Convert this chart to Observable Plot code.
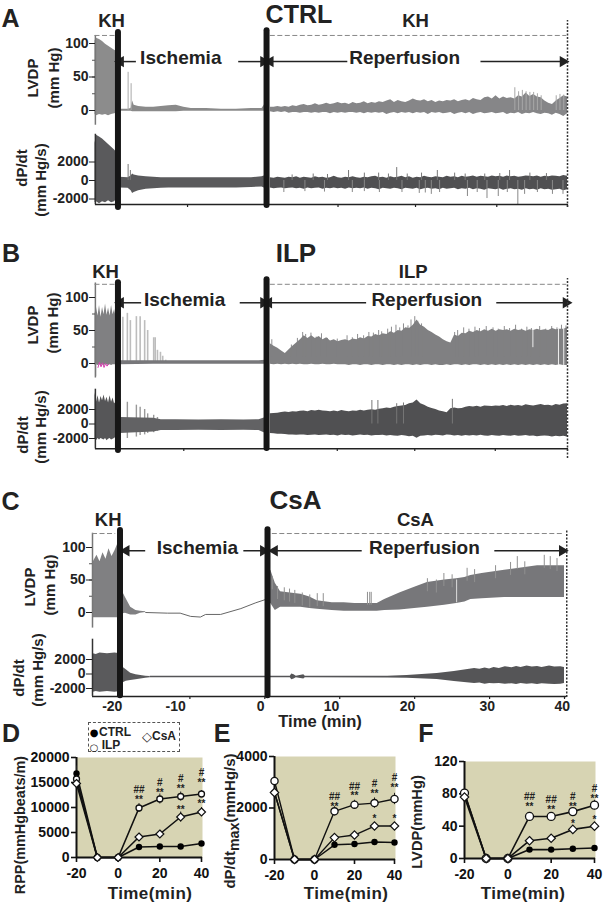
<!DOCTYPE html>
<html><head><meta charset="utf-8">
<script src="https://cdn.jsdelivr.net/npm/d3@7"></script>
<script src="https://cdn.jsdelivr.net/npm/@observablehq/plot@0.6"></script>
<style>
html,body{margin:0;padding:0;background:#fff}
#page{position:relative;width:609px;height:903px;overflow:hidden;font-family:"Liberation Sans",Arial,sans-serif;font-weight:bold;color:#222}
#page svg{position:absolute;left:0}
.lab{position:absolute;white-space:nowrap;transform:translate(-50%,-50%)}
.rot{transform:translate(-50%,-50%) rotate(-90deg)}
.lab sub{font-size:.95em;vertical-align:-0.3em;line-height:0}
</style></head><body><div id="page"></div>
<script>
const FONT='"Liberation Sans",Arial,sans-serif';
const INK="#222", THICK="#161616";

/* ---- shared time grid for reperfusion envelopes (min) ---- */
const halfMinutes=[0.5,1,1.5,2,2.5,3,3.5,4,4.5,5,5.5,6,6.5,7,7.5,8,8.5,9,9.5,10,10.5,11,11.5,12,12.5,13,13.5,14,14.5,15,15.5,16,16.5,17,17.5,18,18.5,19,19.5,20,20.5,21,21.5,22,22.5,23,23.5,24,24.5,25,25.5,26,26.5,27,27.5,28,28.5,29,29.5,30,30.5,31,31.5,32,32.5,33,33.5,34,34.5,35,35.5,36,36.5,37,37.5,38,38.5,39,39.5,40];

/* ---- Panel A: CTRL ---- */
const aKhT=[-22.8,-22.6,-22.2,-21.8,-21.4,-21,-20.6,-20.2,-19.9];
const aKhLvdpHi=[104,108,106,103,99,96,93,90,88];
const aKhLvdpLo=[-6,-8,-6,-7,-6,-8,-6,-5,-4];
const aKhDpHi=[4000,4900,4700,4500,4200,3900,3600,3300,3000];
const aKhDpLo=[-2400,-2300,-2500,-2300,-2400,-2200,-2400,-2300,-2000];
const aIscT=[-19.5,-18.4,-18,-17.8,-17.6,-17,-16,-15,-14,-13,-12,-11,-10,-8,-6,-4,-2,-0.6,-0.3,-0.1];
const aIscLvdpHi=[2,2,3,14,8,6,5,5,6,7,8,5,3,3,2,2,3,3,8,15];
const aIscLvdpLo=[-1,-1,-1,-2,-2,-2,-2,-2,-2,-2,-2,-1,-1,-1,-1,-1,-1,-1,-1,-1];
const aIscDpHi=[350,300,500,700,600,500,400,350,300,300,300,300,300,300,300,300,300,400,500,600];
const aIscDpLo=[-800,-850,-1100,-1400,-1300,-1100,-950,-900,-850,-800,-800,-800,-800,-800,-800,-800,-750,-700,-800,-900];
const aRepLvdpHi=[5,5,6,5,6,5,7,6,8,9,7,8,10,8,9,11,9,10,12,10,11,9,12,10,11,13,10,12,11,13,12,14,16,12,15,13,12,14,17,15,14,16,13,15,12,14,13,15,14,16,13,15,16,14,18,16,15,19,20,17,22,17,20,18,19,17,22,20,26,21,24,20,19,14,11,9,14,18,22,20];
const aRepLvdpLo=[-2,-3,-2,-3,-2,-4,-3,-3,-4,-3,-3,-4,-3,-4,-3,-3,-5,-3,-4,-3,-4,-3,-3,-4,-3,-5,-3,-4,-3,-4,-3,-6,-4,-3,-5,-3,-4,-3,-5,-3,-4,-3,-6,-3,-4,-3,-5,-4,-3,-6,-4,-3,-5,-3,-6,-4,-3,-5,-4,-3,-5,-4,-3,-6,-4,-5,-3,-6,-4,-5,-3,-5,-6,-4,-5,-7,-4,-6,-9,-5];
const aRepDpHi=[300,250,350,300,250,350,300,400,250,350,300,250,400,300,350,250,300,450,300,250,350,300,400,300,250,350,300,400,450,300,350,250,400,300,350,450,300,400,250,350,300,450,350,300,400,350,300,450,350,400,300,450,350,400,500,350,450,400,350,500,400,450,350,500,400,450,350,400,500,450,400,500,350,450,400,500,450,400,550,450];
const aRepDpLo=[-800,-900,-850,-800,-900,-850,-800,-900,-850,-950,-800,-900,-850,-800,-950,-850,-900,-800,-900,-850,-950,-800,-900,-850,-900,-800,-950,-850,-900,-1000,-850,-900,-950,-850,-900,-1000,-850,-900,-950,-850,-1000,-900,-850,-950,-900,-1000,-850,-950,-900,-850,-1000,-900,-950,-850,-1000,-900,-950,-1050,-900,-950,-1000,-900,-1050,-950,-900,-1000,-950,-1050,-900,-1000,-950,-1050,-900,-1000,-950,-1050,-1000,-950,-1100,-1000];
const aLvdpSpikeT=[-18.4,-18,33,33.5,34,34.5,35,35.5,36,36.5,38.5,39,39.5];
const aLvdpSpikeV=[57,40,34,28,30,28,27,27,25,22,22,24,23];
const aDpUpT=[-18.4,-18.1,3.4,6.2,8.1,10.9,13,14.9,16.2,17.3,18.7,20.6,22.7,25,26.4,29,31,32.3,35,37.2];
const aDpUpV=[1730,1080,600,700,650,1080,800,800,700,1400,700,800,1080,800,700,700,750,1080,800,750];
const aDpDownT=[2.3,5.1,7.7,11.4,13,15,18,20.3,21.1,21.9,23,26.7,28,29.3,30.8,32,33.4,34.3,36,38,39.4];
const aDpDownV=[-1300,-1200,-1250,-1300,-1200,-1300,-1300,-1400,-1350,-1500,-1300,-1730,-1300,-1950,-1730,-1300,-2600,-1500,-1300,-1500,-1500];

/* ---- Panel B: ILP ---- */
const bKhT=[-22.8,-22.6,-22.4,-22.2,-22,-21.8,-21.6,-21.4,-21.2,-21,-20.8,-20.6,-20.4,-20.2,-20];
const bKhLvdpHi=[75,85,72,88,70,85,74,90,73,84,72,88,74,82,70];
const bKhLvdpLo=[-3,-2,-3,-2,-3,-2,-3,-2,-2,-3,-2,-3,-2,-2,-2];
const bKhDpHi=[4300,3000,3900,2900,3800,3200,4000,3100,3700,2900,3900,3000,3600,2800,3000];
const bKhDpLo=[-2100,-2300,-2000,-2200,-2000,-2100,-2200,-2000,-2300,-2100,-2000,-2200,-2100,-2000,-1800];
const bPink=[-22.4,-22.2,-22,-21.8,-21.6,-21.4,-21.2,-21];
const bPinkV=[-6,2,-5,1,-6,0,-4,-1];
const bIscT=[-19.5,-15,-14,-12,-9,-6,-3,-1,-0.1];
const bIscLvdpHi=[4,4,4,4,4,4,4,4,5];
const bIscLvdpLo=[-2,-1,-1,-1,-1,-1,-1,-1,-1];
const bIscDpHi=[900,800,600,600,550,600,550,600,900];
const bIscDpLo=[-1300,-1100,-900,-900,-850,-900,-850,-900,-1300];
const bLvdpSpikeT=[-19.5,-19.1,-18.5,-18.1,-17.3,-16.8,-16.2,-15.8,-15,-14.8,-14.5,-14.1,-13.8,-13.4];
const bLvdpSpikeV=[77,70,76,65,71,71,65,50,39,39,20,17,11,5];
const bDpSpikeT=[-19.5,-18.5,-17.3,-16.8,-16.2,-15.8,-15,-14.5];
const bDpSpikeHi=[3400,3000,2600,2300,2000,1400,1200,900];
const bDpSpikeLo=[-2200,-2000,-1800,-1600,-1500,-1300,-1200,-1000];
const bRepLvdpHi=[30,26,23,19,15,21,26,31,36,42,38,42,38,41,36,39,34,36,33,35,36,34,37,36,39,37,41,40,44,42,45,44,48,46,50,49,54,53,58,66,58,55,50,47,43,40,36,33,31,43,41,46,45,49,47,50,48,51,49,52,49,51,50,51,49,52,50,51,49,51,50,52,50,51,50,53,51,52,52,54];
const bRepLvdpLo=[-1,-2,-1,-2,-1,-2,-1,-2,-1,-2,-2,-1,-2,-2,-1,-2,-2,-1,-2,-2,-2,-3,-2,-2,-3,-2,-2,-3,-2,-2,-3,-2,-2,-3,-2,-3,-2,-2,-3,-2,-3,-2,-2,-3,-2,-3,-3,-2,-3,-2,-2,-3,-2,-3,-2,-2,-3,-2,-3,-2,-3,-2,-3,-2,-3,-2,-3,-2,-3,-2,-3,-2,-3,-2,-3,-2,-3,-2,-3,-3];
const bTeethT=[0.7,3.3,4.1,4.8,5.2,5.9,6.6,7.3,8.1,9.4,10.7,11.4,12.1,12.9,13.6,14.2,14.9,15.3,16.1,16.6,17.2,17.7,18.2,18.8,19.2,19.7,20.1,20.6,25,25.4,26.2,26.9,27.7,28.3,29.2,30.1,30.8,31.6,32.3,33.1,33.9,34.6,35.2,36.3,37.1,37.9,38.6,39.2,39.8];
const bTeethV=[36,28,38,47,44,46,40,45,38,37,42,39,44,42,47,46,50,48,52,55,58,54,60,57,66,71,64,60,47,50,54,52,55,53,56,54,52,56,53,58,52,55,53,56,52,56,54,58,57];
const bRepDpHi=[1400,1450,1500,1600,1650,1600,1700,1650,1750,1800,1700,1850,1800,1900,1800,1750,1700,1800,1700,1850,1750,1700,1800,1750,1900,1800,1900,1950,1900,2050,2100,2200,2150,2300,2400,2500,2550,2800,2900,3300,2800,2600,2300,2150,2000,1800,1700,1550,2100,2200,2100,2150,2300,2400,2350,2450,2300,2500,2450,2400,2500,2450,2550,2400,2600,2500,2550,2450,2650,2550,2500,2600,2700,2550,2600,2500,2700,2600,2750,2800];
const bRepDpLo=[-1300,-1350,-1400,-1400,-1450,-1500,-1500,-1550,-1500,-1500,-1600,-1550,-1500,-1600,-1550,-1500,-1600,-1550,-1650,-1500,-1600,-1550,-1650,-1600,-1500,-1600,-1550,-1650,-1600,-1600,-1550,-1650,-1600,-1650,-1700,-1600,-1650,-1750,-1700,-1950,-1700,-1650,-1600,-1650,-1550,-1600,-1650,-1500,-1550,-1650,-1600,-1700,-1600,-1650,-1600,-1650,-1550,-1650,-1700,-1600,-1650,-1700,-1600,-1650,-1700,-1600,-1700,-1650,-1600,-1700,-1650,-1750,-1700,-1650,-1700,-1800,-1700,-1750,-1700,-1800];
const bDpUpT=[14,14.8,17.3,18.2,24.7];
const bDpUpV=[3240,3240,2800,2900,3400];
const bSlitT=[35.4,38.8,39.5];
const bSlitLo=[24,-3,-3];
const bSlitHi=[50,52,54];

/* ---- Panel C: CsA ---- */
const cKhT=[-23,-22.8,-22.4,-22,-21.6,-21.2,-20.8,-20.4,-20,-19.6,-19.3,-18.9,-18.6,-17.9,-17.2,-16.6,-15.9];
const cKhLvdpHi=[75,80,88,78,92,82,98,86,95,106,120,30,23,8,3,2,1];
const cKhLvdpLo=[-8,-8,-8,-8,-8,-8,-8,-8,-8,-8,-8,-2,-1,-4,-4,-1,0];
const cTroughT=[-15.9,-13,-11.3,-9.9,-8.6,-7.9,-5.9,-3.2,-1.2,0.1];
const cTroughV=[0,-1,-1,-6,-7,-3,-3,6,15,20];
const cRepT=[0.4,0.8,1.4,2.1,3.4,4.8,6,7,9,10.6,12,14.2,15,16,18,20,21.7,24,25.6,26.7,27.5,29,32,34,36.4,38,40];
const cRepHi=[60,65,45,32,30,28,24,18,15,15,14,14,14,20,30,39,46,50,52,54,57,60,65,68,72,72,72];
const cRepLo=[16,14,3,8,8,8,6,5,3,2,2,2,2,3,4,6,8,11,14,16,20,21,23,23,23,23,23];
const cLvdpSpikeT=[1,1.7,2.6,3.3,4,5,6,7,7.8,13.7,14,14.2,21.7,22.9,23.9,25,27,28,30.8,32.8,33.7,34.7,37.3,38.1,39];
const cLvdpSpikeV=[55,40,38,36,34,30,27,29,29,31,31,31,52,50,60,58,68,66,72,77,86,78,88,86,83];
const cKhDpT=[-23,-22.9,-22.5,-22,-21,-20,-19.3,-18.9,-18.5,-17.9,-17.2,-15.9,-15.3];
const cKhDpHi=[4600,2800,2700,2900,2800,2900,2800,900,600,100,-100,-300,-350];
const cKhDpLo=[-2500,-2500,-2400,-2500,-2400,-2500,-2400,-1200,-1000,-900,-800,-600,-500];
const cRepDpT=[-15.3,3.4,3.6,3.9,4.2,5.2,5.4,16.4,19,23,25.3,28,28.7,29.4,30,30.6,31.3,32.1,33,33.6,34.2,35,35.7,36.4,37,38,38.7,39.5,40];
const cRepDpHi=[-300,-300,0,-100,-300,-100,-300,-300,-200,70,350,760,650,820,700,900,760,1000,850,1050,900,1100,950,1050,900,1100,950,1000,900];
const cRepDpLo=[-500,-500,-800,-700,-500,-700,-500,-550,-600,-760,-1030,-1300,-1250,-1400,-1300,-1350,-1300,-1400,-1350,-1450,-1300,-1400,-1350,-1450,-1350,-1400,-1450,-1400,-1300];

/* ---- Panels D, E, F: group means ---- */
const groupT=[-20,-10,0,10,20,30,40];
const rppCtrl=[16800,0,0,2100,2200,2200,2800];
const rppIlp=[15700,0,0,9900,11700,12200,12700];
const rppCsa=[14800,0,0,4100,4700,8100,9100];
const rppIlpErr=[600,0,0,900,1000,900,700];
const rppCsaErr=[600,0,0,500,700,1000,900];
const rppCtrlErr=[1500,0,0,200,200,200,200];
const dpCtrl=[2600,0,0,570,600,680,660];
const dpIlp=[3050,0,0,1870,2130,2190,2350];
const dpCsa=[2600,0,0,850,950,1300,1300];
const dpIlpErr=[150,0,0,180,170,200,220];
const dpCsaErr=[100,0,0,80,80,90,80];
const dpCtrlErr=[100,0,0,60,60,60,60];
const lvCtrl=[80,0,0,11,11,12,13];
const lvIlp=[81,0,0,52,52,58,66];
const lvCsa=[76,0,0,22,25,36,40];
const lvIlpErr=[3,0,0,5,4,5,6];
const lvCsaErr=[3,0,0,3,3,3,3];
const lvCtrlErr=[3,0,0,2,2,2,2];
const sigT=[10,20,30,40,30,40];
const rppSigText=["##\n**","#\n**","#\n**","#\n**","**","**"];
const rppSigY=[14400,15800,16600,17800,10300,11500];
const dpSigText=["##\n**","##\n**","#\n**","#\n**","*","*"];
const dpSigY=[2594,2994,3094,3324,1727,1727];
const lvSigText=["##\n**","##\n**","#\n**","#\n**","*","*"];
const lvSigY=[81,78,81,91,48,53];

const page=document.getElementById("page");
const rows3=(t,hi,lo)=>t.map((d,i)=>({t:d,hi:hi[i],lo:lo[i]}));
const spikes=(t,v,base=0)=>t.map((d,i)=>({t:d,v:v[i],base:Array.isArray(base)?base[i]:base}));
const place=(svg,top)=>{svg.style.top=top+"px";page.appendChild(svg);};
const style={background:"transparent",overflow:"visible",fontFamily:FONT,fontWeight:"bold"};
function label(text,x,y,size,rot,extra){
  const d=document.createElement("div");
  d.className="lab"+(rot?" rot":"");
  d.style.left=x+"px";d.style.top=y+"px";d.style.fontSize=size+"px";
  if(extra)Object.assign(d.style,extra);
  d.innerHTML=text;page.appendChild(d);
}
const area=(data,fill)=>Plot.areaY(data,{x:"t",y1:"lo",y2:"hi",fill});
const rule=(data,stroke,w=1)=>Plot.ruleX(data,{x:"t",y1:"base",y2:"v",stroke,strokeWidth:w});

function tracePanel(c){
  const {x,lv,dp}=c;
  const lvTop=lv.top, lvH=lv.bottom-lv.top;
  const arrows=c.arrows.map(([a,b])=>({a,b,y:c.arrowY,dir:b>a?90:-90}));
  const lvPlot=Plot.plot({
    style,width:609,height:lvH,marginLeft:x.left,marginRight:609-x.right,marginTop:0,marginBottom:0,
    x:{domain:x.domain,range:x.range,axis:null},
    y:{domain:[0,100],range:[lv.zero-lvTop,lv.hundred-lvTop],axis:null},
    marks:[
      ...c.lvMarks,
      Plot.ruleX([x.domain[0]+c.axisOffset],{y1:lv.axisLo,y2:lv.axisHi,stroke:"#777",strokeWidth:1.5}),
      Plot.axisY({ticks:[0,25,50,75,100],tickSize:3,tickFormat:()=>"",color:"#555",label:null}),
      Plot.axisY({ticks:[0,50,100],tickSize:6,tickPadding:1,tickFormat:String,fontSize:14,color:INK,fontWeight:"bold",label:null}),
      Plot.ruleY([c.dashY],{x1:c.dash[0],x2:c.dash[1],stroke:"#888",strokeDasharray:"5,2.5"}),
      Plot.ruleY([c.dashY],{x1:c.dash[2],x2:c.dash[3],stroke:"#888",strokeDasharray:"5,2.5"}),
      Plot.ruleY(arrows,{x1:"a",x2:"b",y:"y",stroke:INK,strokeWidth:1.5}),
      Plot.dot(arrows,{x:"b",y:"y",symbol:"triangle",rotate:"dir",r:4.2,fill:INK}),
      Plot.text(c.words,{x:"t",y:"y",text:"s",fontSize:"size",fill:INK,fontWeight:"bold"})
    ]
  });
  place(lvPlot,lvTop);
  const dpTop=dp.top,dpH=dp.axis-dpTop+14;
  const dpPlot=Plot.plot({
    style,width:609,height:dpH,marginLeft:x.left,marginRight:609-x.right,marginTop:0,marginBottom:14,
    x:{domain:x.domain,range:x.range,axis:null},
    y:{domain:[-2000,2000],range:[dp.lo-dpTop,dp.hi-dpTop],axis:null},
    marks:[
      ...c.dpMarks,
      Plot.ruleX([x.domain[0]+c.axisOffset],{y1:dp.axisLo,y2:dp.axisHi,stroke:"#333",strokeWidth:1.5}),
      Plot.axisY({ticks:[-2000,0,2000],tickSize:6,tickPadding:1,tickFormat:String,fontSize:14,color:INK,fontWeight:"bold",label:null}),
      Plot.axisX({ticks:c.xTicks,tickSize:3,tickFormat:()=>"",color:INK,strokeWidth:1.2,label:null}),
      Plot.ruleY([dp.axisValue],{stroke:INK,strokeWidth:1.5,x1:x.domain[0]+c.axisOffset,x2:c.dotted.t}),
      Plot.ruleX([c.dotted.t],{y1:c.dotted.lo,y2:c.dotted.hi,stroke:"#333",strokeWidth:1.5,strokeDasharray:"2,1.5"}),
      Plot.ruleX(c.bars,{x:"t",y1:"lo",y2:"hi",stroke:THICK,strokeWidth:6,strokeLinecap:"round"}),
      ...(c.xLabels?[Plot.text(c.xLabels,{x:"t",y:"y",text:"s",fontSize:14,fill:INK,fontWeight:"bold"})]:[])
    ]
  });
  place(dpPlot,dpTop);
}

/* Panel A */
tracePanel({
  x:{domain:[-23,40],range:[93,567],left:95,right:567},
  axisOffset:0.25,
  lv:{top:25,bottom:130,zero:110,hundred:43,axisLo:-22,axisHi:112},
  dp:{top:130,axis:204,lo:198.5,hi:161.5,axisValue:-2600,axisLo:-2600,axisHi:5000},
  dashY:112,dash:[-22.8,-20.1,0.5,39.9],
  arrowY:73,arrows:[[-17.3,-19.4],[-3.7,-0.4],[10.8,0.5],[28.5,39.4]],
  words:[{t:-11.4,y:79,s:"Ischemia",size:19},{t:18.35,y:79,s:"Reperfusion",size:19},{t:-20.6,y:134,s:"KH",size:18.5},{t:19.8,y:134,s:"KH",size:18.5},{t:4.3,y:142.5,s:"CTRL",size:25}],
  lvMarks:[
    area(rows3(aKhT,aKhLvdpHi,aKhLvdpLo),"#8c8c8c"),
    area(rows3(aIscT,aIscLvdpHi,aIscLvdpLo),"#8a8a8a"),
    area(rows3(halfMinutes,aRepLvdpHi,aRepLvdpLo),"#868688"),
    rule(spikes(aLvdpSpikeT,aLvdpSpikeV),"#a8a8a8")
  ],
  dpMarks:[
    area(rows3(aKhT,aKhDpHi,aKhDpLo),"#5a5a5c"),
    area(rows3(aIscT,aIscDpHi,aIscDpLo),"#5a5a5c"),
    area(rows3(halfMinutes,aRepDpHi,aRepDpLo),"#505052"),
    rule(spikes(aDpUpT,aDpUpV),"#777"),
    rule(spikes(aDpDownT,aDpDownV),"#888")
  ],
  xTicks:[-10.5,0,9.5,19.8,30.6,40],
  dotted:{t:40,lo:-2920,hi:17300},
  bars:[{t:-19.75,lo:-2920,hi:16000},{t:0,lo:-2700,hi:16200}]
});
label("A",10.5,18,25);
label("LVDP",32,78,15,1);label("(mm Hg)",53,78,15,1);
label("dP/dt",21,168,15,1);label("(mm Hg/s)",40,180,15,1);

/* Panel B */
tracePanel({
  x:{domain:[-23,40],range:[93,567],left:95,right:567},
  axisOffset:0.25,
  lv:{top:275,bottom:378,zero:363,hundred:297,axisLo:-22,axisHi:122},
  dp:{top:378,axis:448,lo:438,hi:409,axisValue:-3400,axisLo:-3400,axisHi:4800},
  dashY:120,dash:[-22.8,-20.1,0.5,39.9],
  arrowY:92,arrows:[[-16.6,-19.4],[-3.5,-0.4],[13.3,0.3],[30.6,39.8]],
  words:[{t:-10.9,y:97,s:"Ischemia",size:19},{t:21.3,y:97,s:"Reperfusion",size:19},{t:-21.4,y:138,s:"KH",size:18.5},{t:19.5,y:138,s:"ILP",size:18.5},{t:3.9,y:167,s:"ILP",size:26}],
  lvMarks:[
    area(rows3(bKhT,bKhLvdpHi,bKhLvdpLo),"#808082"),
    rule(spikes(bLvdpSpikeT,bLvdpSpikeV),"#bdbdbd",1.6),
    area(rows3(bIscT,bIscLvdpHi,bIscLvdpLo),"#77777a"),
    area(rows3(halfMinutes,bRepLvdpHi,bRepLvdpLo),"#808082"),
    rule(spikes(bTeethT,bTeethV,10),"#808082",0.9),
    rule(bSlitT.map((t,i)=>({t,base:bSlitLo[i],v:bSlitHi[i]})),"#eee",1),
    Plot.ruleX([-22.7],{y1:-20,y2:0,stroke:"#999"}),
    Plot.line(bPink.map((t,i)=>({t,v:bPinkV[i]})),{x:"t",y:"v",stroke:"#d63fb0",strokeWidth:1})
  ],
  dpMarks:[
    area(rows3(bKhT,bKhDpHi,bKhDpLo),"#565658"),
    Plot.ruleX(bDpSpikeT.map((t,i)=>({t,a:bDpSpikeLo[i],b:bDpSpikeHi[i]})),{x:"t",y1:"a",y2:"b",stroke:"#999",strokeWidth:1.4}),
    area(rows3(bIscT,bIscDpHi,bIscDpLo),"#626264"),
    area(rows3(halfMinutes,bRepDpHi,bRepDpLo),"#505052"),
    rule(spikes(bDpUpT,bDpUpV),"#777")
  ],
  xTicks:[-11,0,9.4,19.7,30.4,40],
  dotted:{t:40,lo:-4760,hi:20070},
  bars:[{t:-19.75,lo:-3655,hi:19500},{t:0,lo:-3380,hi:19900}]
});
label("B",11,253,25);
label("LVDP",32,325,15,1);label("(mm Hg)",52,323,15,1);
label("dP/dt",22,435,15,1);label("(mm Hg/s)",40,427,15,1);

/* Panel C */
const cXLabels=[[-20.36,"-20"],[-11.9,"-10"],[-0.57,"0"],[8.9,"10"],[19.05,"20"],[29.7,"30"],[39.7,"40"]].map(([t,s])=>({t,s,y:-4480}));
tracePanel({
  x:{domain:[-23,40],range:[92,564],left:92,right:564},
  axisOffset:0,
  lv:{top:525,bottom:628,zero:612,hundred:547,axisLo:-24,axisHi:122},
  dp:{top:628,axis:696,lo:688,hi:659,axisValue:-3090,axisLo:-3090,axisHi:4800},
  dashY:121.5,dash:[-23,-19.9,1,40],
  arrowY:95,arrows:[[-15.9,-18.5],[-2.8,-0.2],[13,1.3],[30.7,39.7]],
  words:[{t:-9,y:100,s:"Ischemia",size:19},{t:21.3,y:100,s:"Reperfusion",size:19},{t:-20.9,y:141.5,s:"KH",size:18.5},{t:20.1,y:141.5,s:"CsA",size:18.5},{t:4.1,y:172,s:"CsA",size:26}],
  lvMarks:[
    area(rows3(cKhT,cKhLvdpHi,cKhLvdpLo),"#808082"),
    Plot.line(cTroughT.map((t,i)=>({t,v:cTroughV[i]})),{x:"t",y:"v",stroke:"#666",strokeWidth:1}),
    area(rows3(cRepT,cRepHi,cRepLo),"#77777a"),
    rule(cLvdpSpikeT.map((t,i)=>({t,v:cLvdpSpikeV[i],base:cLvdpSpikeV[i]-20})),"#909090"),
    rule([{t:25.6,base:15,v:50}],"#ddd",1)
  ],
  dpMarks:[
    area(rows3(cKhDpT,cKhDpHi,cKhDpLo),"#5a5a5c"),
    area(rows3(cRepDpT,cRepDpHi,cRepDpLo),"#555557")
  ],
  xTicks:[-10,0,10,20,30,40],
  xLabels:cXLabels,
  dotted:{t:40.3,lo:-3240,hi:19800},
  bars:[{t:-19.33,lo:-3000,hi:19800},{t:0.36,lo:-3000,hi:19900}]
});
label("C",10.5,501,25);
label("LVDP",29,587,15,1);label("(mm Hg)",49,585,15,1);
label("dP/dt",18,678,15,1);label("(mm Hg/s)",37,670,15,1);
label("Time (min)",320,722,16.6);

/* Bottom charts */
function groupPanel(p){
  const top=745,h=p.zeroPx-top+36;
  const make=(v,err)=>groupT.map((t,i)=>({t,v:v[i],lo:v[i]-err[i],hi:v[i]+err[i]}));
  const ctrl=make(p.ctrl,p.ctrlErr),ilp=make(p.ilp,p.ilpErr),csa=make(p.csa,p.csaErr);
  const series=(d,mk)=>[
    Plot.ruleX(d.filter(r=>r.hi>r.v),{x:"t",y1:"lo",y2:"hi",stroke:"#222",strokeWidth:1}),
    Plot.line(d,{x:"t",y:"v",stroke:"#111",strokeWidth:p.lineW}),
    mk(d)
  ];
  const svg=Plot.plot({
    style,width:609,height:h,marginLeft:p.xPx[0],marginRight:609-p.xPx[1]-1,marginTop:p.topPx-top,marginBottom:36,
    x:{domain:[-20,40],range:[p.xPx[0],p.xPx[1]],axis:null},
    y:{domain:p.yDomain,range:[p.zeroPx-top,p.topPx-top],axis:null},
    marks:[
      Plot.frame({fill:"#d7d4b3",stroke:"none"}),
      Plot.ruleY([0],{stroke:"#111",strokeWidth:2}),
      Plot.ruleX([-20],{y1:p.yDomain[0],y2:p.yDomain[1],stroke:"#111",strokeWidth:2}),
      Plot.axisY({ticks:p.yTicks,tickSize:5,tickPadding:2,tickFormat:String,fontSize:14,color:"#111",strokeWidth:1.6,fontWeight:"bold",label:null}),
      Plot.axisX({ticks:[-20,0,20,40],tickSize:5,tickPadding:6,tickFormat:String,fontSize:14,color:"#111",strokeWidth:1.6,fontWeight:"bold",label:null}),
      ...series(ctrl,d=>Plot.dot(d,{x:"t",y:"v",r:p.rCtrl,fill:"#000"})),
      ...series(ilp,d=>Plot.dot(d,{x:"t",y:"v",r:p.rIlp,fill:"#fff",stroke:"#111",strokeWidth:1.3})),
      ...series(csa,d=>Plot.dot(d,{x:"t",y:"v",r:p.rCsa,symbol:"diamond2",fill:"#fff",stroke:"#111",strokeWidth:1.2})),
      Plot.text(sigT.map((t,i)=>({t,s:p.sigText[i],y:p.sigY[i]})),{x:"t",y:"y",text:"s",fontSize:10,lineAnchor:"top",fill:"#222",fontWeight:"bold"})
    ]
  });
  place(svg,top);
  label("Time(min)",p.timeX,p.timeY,17,false,{letterSpacing:"0.4px"});
}
groupPanel({xPx:[76,201],zeroPx:857,topPx:757,yDomain:[0,20000],yTicks:[0,5000,10000,15000,20000],
  ctrl:rppCtrl,ilp:rppIlp,csa:rppCsa,ctrlErr:rppCtrlErr,ilpErr:rppIlpErr,csaErr:rppCsaErr,
  sigText:rppSigText,sigY:rppSigY,rCtrl:3.2,rIlp:3,rCsa:3.6,lineW:1.6,timeX:150,timeY:893.5});
groupPanel({xPx:[274,394],zeroPx:859,topPx:756,yDomain:[0,4000],yTicks:[0,2000,4000],
  ctrl:dpCtrl,ilp:dpIlp,csa:dpCsa,ctrlErr:dpCtrlErr,ilpErr:dpIlpErr,csaErr:dpCsaErr,
  sigText:dpSigText,sigY:dpSigY,rCtrl:3.2,rIlp:3.6,rCsa:3.8,lineW:1.4,timeX:346,timeY:893.5});
groupPanel({xPx:[464,594],zeroPx:858,topPx:761,yDomain:[0,120],yTicks:[0,40,80,120],
  ctrl:lvCtrl,ilp:lvIlp,csa:lvCsa,ctrlErr:lvCtrlErr,ilpErr:lvIlpErr,csaErr:lvCsaErr,
  sigText:lvSigText,sigY:lvSigY,rCtrl:3.2,rIlp:4,rCsa:3.8,lineW:1.6,timeX:523,timeY:893.5});

label("D",11,733,25);label("E",222,733,25);label("F",426,733,25);
label("RPP(mmHgbeats/m)",20,825,14.4,1);
label("dP/dt<sub>max</sub>(mmHg/s)",229,821,15,1);
label("LVDP(mmHg)",417,822,14.7,1);

/* legend of panel D */
const box=document.createElement("div");
Object.assign(box.style,{position:"absolute",left:"88px",top:"722px",width:"92px",height:"30px",border:"1px dashed #555",boxSizing:"border-box"});
page.appendChild(box);
label("●",94,732,10,false,{fontFamily:"DejaVu Sans",color:"#000"});
label("CTRL",115,732,12);
label("○",94,747,10,false,{fontFamily:"DejaVu Sans"});
label("ILP",111,745,12);
label("◇",147,736,13,false,{fontFamily:"DejaVu Sans"});
label("CsA",164,736,12);
</script></body></html>
